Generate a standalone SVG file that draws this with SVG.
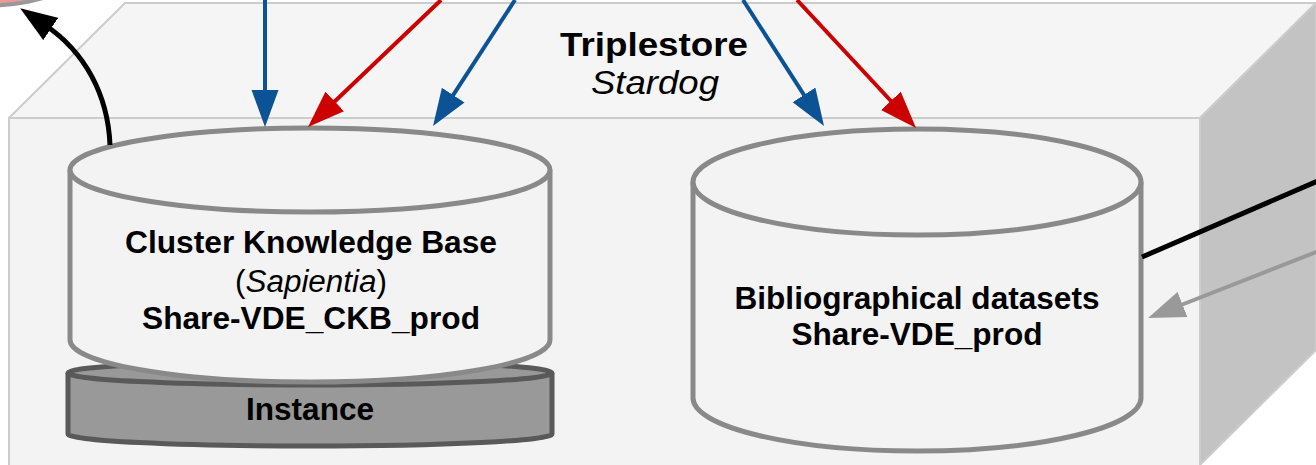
<svg xmlns="http://www.w3.org/2000/svg" width="1316" height="465" viewBox="0 0 1316 465">
<style>
  .face { stroke: #cccccc; stroke-width: 2; stroke-linejoin: round; }
  .cyl { fill: #f3f3f3; stroke: #898989; stroke-width: 5; }
  .disk { fill: #999999; stroke: #595959; stroke-width: 5; }
  .t { font-family: "Liberation Sans", Arial, sans-serif; fill: #000; text-anchor: middle; }
  .b { font-weight: bold; }
  .i { font-style: italic; }
  .blue { stroke: #0b5394; stroke-width: 4; fill: none; }
  .red { stroke: #cc0000; stroke-width: 4; fill: none; }
  .blk { stroke: #000; stroke-width: 5; fill: none; }
  .gry { stroke: #999999; stroke-width: 4; fill: none; }
</style>
<defs>
  <marker id="mBlue" markerUnits="userSpaceOnUse" markerWidth="38" markerHeight="28" viewBox="0 0 38 28" refX="7" refY="14" orient="auto"><path d="M0,0.5 L37,14 L0,27.5 z" fill="#0b5394"/></marker>
  <marker id="mRed" markerUnits="userSpaceOnUse" markerWidth="38" markerHeight="28" viewBox="0 0 38 28" refX="7" refY="14" orient="auto"><path d="M0,0.5 L37,14 L0,27.5 z" fill="#cc0000"/></marker>
  <marker id="mBlk" markerUnits="userSpaceOnUse" markerWidth="38" markerHeight="28" viewBox="0 0 38 28" refX="7" refY="14" orient="auto"><path d="M0,0.5 L37,14 L0,27.5 z" fill="#000000"/></marker>
  <marker id="mGry" markerUnits="userSpaceOnUse" markerWidth="38" markerHeight="28" viewBox="0 0 38 28" refX="7" refY="14" orient="auto"><path d="M0,0.5 L37,14 L0,27.5 z" fill="#999999"/></marker>
</defs>
<rect x="0" y="0" width="1316" height="465" fill="#ffffff"/>

<g id="offscreen-node">
  <ellipse cx="-20" cy="-30" rx="100" ry="36" fill="#ea9999" stroke="#999999" stroke-width="4"/>
</g>

<g id="triplestore">
  <rect class="face" x="9" y="118" width="1191" height="360" fill="#f3f3f3"/>
  <polygon class="face" points="9,118 125,3 1316,3 1200,118" fill="#f5f5f5"/>
  <polygon class="face" points="1200,118 1316,3 1316,350 1200,465" fill="#c3c3c3"/>
  <text class="t b" x="654" y="56" font-size="34" textLength="188" lengthAdjust="spacingAndGlyphs">Triplestore</text>
  <text class="t i" x="655" y="94" font-size="34" textLength="128" lengthAdjust="spacingAndGlyphs">Stardog</text>
</g>

<g id="instance">
  <path class="disk" d="M68,373 A242,12 0 0 1 552,373 L552,434 A242,12 0 0 1 68,434 Z"/>
  <path class="disk" d="M68,373 A242,12 0 0 0 552,373" fill="none"/>
  <text class="t b" x="310" y="420" font-size="31" textLength="128" lengthAdjust="spacingAndGlyphs">Instance</text>
</g>

<g id="ckb">
  <path class="cyl" d="M70,170 A240,42 0 0 1 550,170 L550,340 A240,42 0 0 1 70,340 Z"/>
  <path class="cyl" d="M70,170 A240,42 0 0 0 550,170" fill="none"/>
  <text class="t b" x="311" y="253" font-size="31" textLength="372" lengthAdjust="spacingAndGlyphs">Cluster Knowledge Base</text>
  <text class="t" x="311" y="292" font-size="31" textLength="152" lengthAdjust="spacingAndGlyphs">(<tspan class="i">Sapientia</tspan>)</text>
  <text class="t b" x="311" y="329" font-size="31" textLength="338" lengthAdjust="spacingAndGlyphs">Share-VDE_CKB_prod</text>
</g>

<g id="biblio">
  <path class="cyl" d="M693,182 A224,53 0 0 1 1141,182 L1141,398 A224,53 0 0 1 693,398 Z"/>
  <path class="cyl" d="M693,182 A224,53 0 0 0 1141,182" fill="none"/>
  <text class="t b" x="917" y="309" font-size="31" textLength="365" lengthAdjust="spacingAndGlyphs">Bibliographical datasets</text>
  <text class="t b" x="917" y="345" font-size="31" textLength="251" lengthAdjust="spacingAndGlyphs">Share-VDE_prod</text>
</g>

<g id="connectors">
  <line class="blue" x1="265" y1="-5" x2="265" y2="97" marker-end="url(#mBlue)"/>
  <line class="red" x1="441" y1="0" x2="329.7" y2="106.3" marker-end="url(#mRed)"/>
  <line class="blue" x1="515" y1="0" x2="449.4" y2="100.9" marker-end="url(#mBlue)"/>
  <line class="blue" x1="743" y1="0" x2="807.8" y2="100.8" marker-end="url(#mBlue)"/>
  <line class="red" x1="797" y1="0" x2="895.6" y2="106" marker-end="url(#mRed)"/>
  <path class="blk" d="M110,145 C108,95 85,52 45,25" marker-end="url(#mBlk)"/>
  <line class="blk" x1="1142" y1="257" x2="1320" y2="180" stroke-width="4.5"/>
  <line class="gry" x1="1320" y1="250.5" x2="1176" y2="307" marker-end="url(#mGry)"/>
</g>
</svg>
